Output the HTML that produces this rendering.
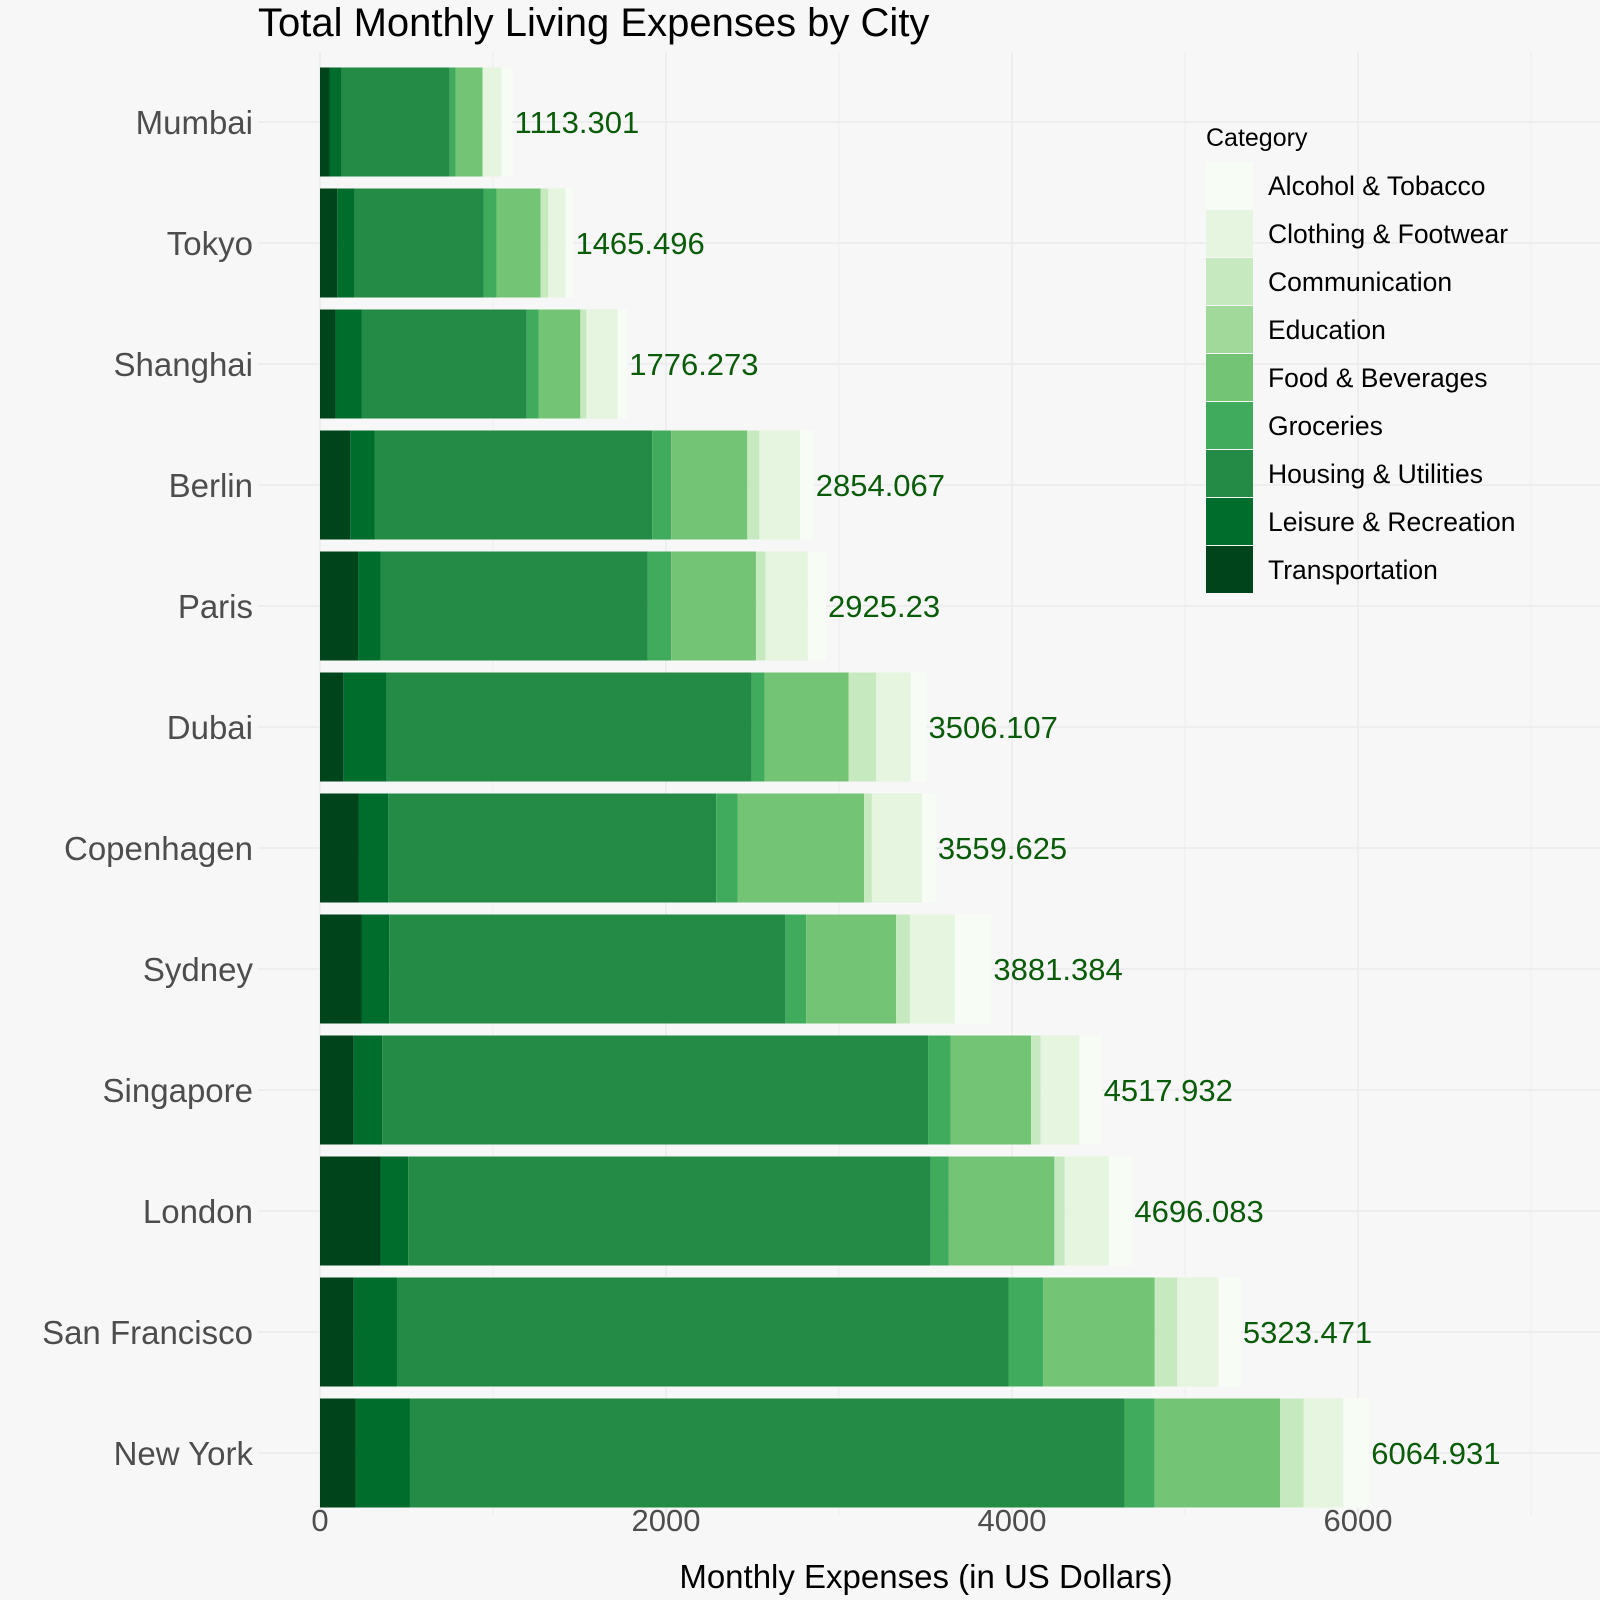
<!DOCTYPE html>
<html><head><meta charset="utf-8">
<style>
body{margin:0;background:#f7f7f7;}
svg{display:block;font-family:"Liberation Sans",Arial,sans-serif;}
</style></head>
<body>
<svg id="chart" width="1600" height="1600" viewBox="0 0 1600 1600">
<rect x="0" y="0" width="1600" height="1600" fill="#f7f7f7"/>
<text x="258" y="36" font-size="40" fill="#000">Total Monthly Living Expenses by City</text>
<g id="grid"></g>
<g id="bars"></g>
<g id="labels"></g>
<g id="yaxis"></g>
<g id="xaxis"></g>
<text x="926" y="1588" font-size="33" text-anchor="middle" fill="#000">Monthly Expenses (in US Dollars)</text>
<g id="legend">
<text x="1206" y="146" font-size="25" fill="#000">Category</text>
</g>
</svg>
<script>
const cities = ["Mumbai","Tokyo","Shanghai","Berlin","Paris","Dubai","Copenhagen","Sydney","Singapore","London","San Francisco","New York"];
const categories = ["Transportation","Leisure & Recreation","Housing & Utilities","Groceries","Food & Beverages","Education","Communication","Clothing & Footwear","Alcohol & Tobacco"];
const transportation = [55,100,90,175,220,135,225,240,195,350,195,205];
const leisure = [70,100,150,140,130,250,170,160,165,160,250,315];
const housing = [625,745,955,1605,1545,2110,1895,2290,3155,3020,3535,4130];
const groceries = [35,75,70,110,135,75,125,120,130,105,200,175];
const food = [155,255,240,440,490,485,730,520,465,610,645,725];
const education = [0,0,0,0,0,0,0,0,0,0,0,0];
const communication = [0,45,35,70,55,160,45,80,55,60,130,135];
const clothing = [110,100,180,235,245,200,290,260,225,255,240,230];
const alcohol = [63,45,56,79,105,91,80,211,128,136,128,150];
const totalLabels = ["1113.301","1465.496","1776.273","2854.067","2925.23","3506.107","3559.625","3881.384","4517.932","4696.083","5323.471","6064.931"];
const xTicks = [0,2000,4000,6000];
const legendOrder = ["Alcohol & Tobacco","Clothing & Footwear","Communication","Education","Food & Beverages","Groceries","Housing & Utilities","Leisure & Recreation","Transportation"];

const colors = {"Alcohol & Tobacco":"#f7fcf5","Clothing & Footwear":"#e5f5e0","Communication":"#c7e9c0","Education":"#a1d99b","Food & Beverages":"#74c476","Groceries":"#41ab5d","Housing & Utilities":"#238b45","Leisure & Recreation":"#006d2c","Transportation":"#00441b"};
const series = [transportation,leisure,housing,groceries,food,education,communication,clothing,alcohol];
const NS="http://www.w3.org/2000/svg";
const x0=320, pxPer=346/2000;
const xs = v => x0 + v*pxPer;
const rowY0=122, rowStep=121, barH=109;
const ys = i => rowY0 + i*rowStep;
function mk(tag,attrs,parent){const e=document.createElementNS(NS,tag);for(const k in attrs)e.setAttribute(k,attrs[k]);parent.appendChild(e);return e;}
const grid=document.getElementById('grid');
for(let v=0; v<=7000; v+=1000){
  const l=mk('line',{x1:xs(v),x2:xs(v),y1:52,y2:1515,stroke:'#ebebeb','stroke-width':v%2000===0?1.6:0.8},grid);
  
  
}
cities.forEach((c,i)=>{
  const l=mk('line',{x1:258,x2:1600,y1:ys(i),y2:ys(i),stroke:'#ebebeb','stroke-width':1.6},grid);
  
  
});
const bars=document.getElementById('bars'), labels=document.getElementById('labels'), yaxis=document.getElementById('yaxis');
cities.forEach((c,i)=>{
  let acc=0;
  series.forEach((s,k)=>{
    const v=s[i]; if(v<=0) return;
    const r=mk('rect',{x:xs(acc),y:ys(i)-barH/2,width:v*pxPer,height:barH,fill:colors[categories[k]]},bars);
    
    
    acc+=v;
  });
  const t=mk('text',{x:xs(acc)+2,y:ys(i)+11,'font-size':31,fill:'#0a5c0a'},labels);
  t.textContent=totalLabels[i];
  
  
  const yl=mk('text',{x:253,y:ys(i)+12,'font-size':33,fill:'#4d4d4d','text-anchor':'end'},yaxis);
  yl.textContent=c;
  
  
});
const xaxis=document.getElementById('xaxis');
xTicks.forEach(v=>{
  const t=mk('text',{x:xs(v),y:1531,'font-size':31,fill:'#4d4d4d','text-anchor':'middle'},xaxis);
  t.textContent=v;
  
  
});
const legend=document.getElementById('legend');
legendOrder.forEach((n,j)=>{
  const y=162+j*48;
  const r=mk('rect',{x:1206,y:y,width:47,height:47,fill:colors[n]},legend);
  
  
  const t=mk('text',{x:1268,y:y+33,'font-size':26.5,fill:'#000'},legend);
  t.textContent=n;
  
  
});
</script>
</body></html>
